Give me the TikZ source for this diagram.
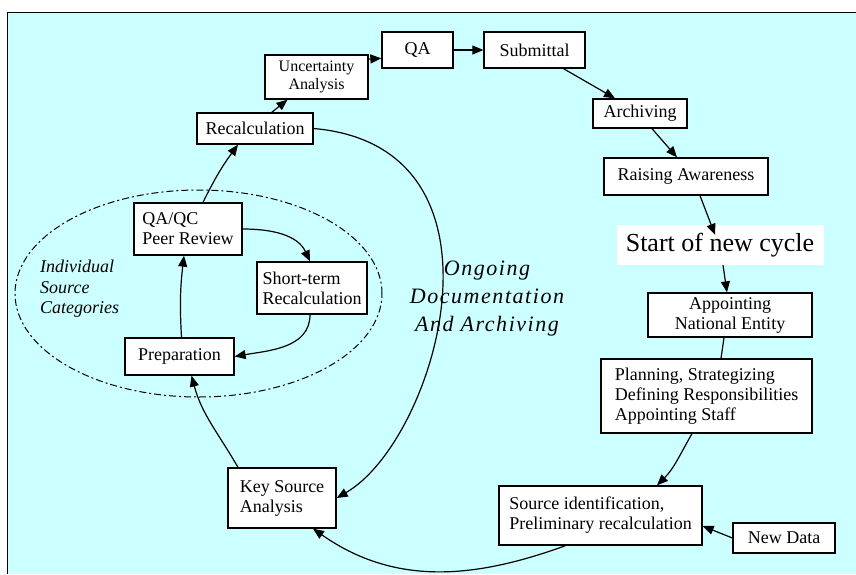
\documentclass[tikz,border=0pt]{standalone}
\usepackage{fontspec}
\setmainfont{Liberation Serif}
\usetikzlibrary{calc,positioning,arrows.meta,shapes}
\definecolor{bgcyan}{RGB}{204,255,255}

\begin{document}
\begin{tikzpicture}[x=1pt,y=1pt,
		box/.style={draw,fill=white,line width=1.3pt,font=\fontsize{18}{20}\selectfont,inner sep=3pt},
		arr/.style={line width=1.2pt,-{Triangle[length=11pt,width=9pt]}}]
		\useasboundingbox (0,0) rectangle (856,-574);
		\fill[bgcyan] (7,-12) rectangle (856,-574);
		\draw[line width=1pt] (7,-574) -- (7,-12) -- (856,-12);
		\draw[line width=1pt,dash pattern=on 7pt off 3pt on 2pt off 3pt] (198.5,-293.5) ellipse [x radius=183.5,y radius=103.5];
		
		\node[box,minimum width=71pt,minimum height=36pt] (qa) at (417.5,-50) {QA};
		\node[box,minimum width=101pt,minimum height=36pt] (sub) at (534.5,-50) {Submittal};
		\node[box,minimum width=103pt,minimum height=44pt,align=center,font=\fontsize{16}{18}\selectfont] (unc) at (316.5,-77) {Uncertainty\\Analysis};
		\node[box,minimum width=116pt,minimum height=31pt] (rec) at (255,-128.5) {Recalculation};
		\node[box,minimum width=94pt,minimum height=29pt] (arc) at (640,-113.5) {Archiving};
		\node[box,minimum width=164pt,minimum height=37pt] (raw) at (686,-176.5) {Raising Awareness};
		\node[fill=white,minimum width=207pt,minimum height=40pt,font=\fontsize{26}{30}\selectfont] (start) at (720,-245) {Start of new cycle};
		\node[box,minimum width=164pt,minimum height=44pt,align=center] (app) at (730,-315) {Appointing\\National Entity};
		\node[box,minimum width=211pt,minimum height=74pt,align=left] (plan) at (706.5,-396) {Planning, Strategizing\\Defining Responsibilities\\Appointing Staff};
		\node[box,minimum width=203pt,minimum height=59pt,align=left] (src) at (600.5,-515.5) {Source identification,\\Preliminary recalculation};
		\node[box,minimum width=102pt,minimum height=30pt] (new) at (784,-538) {New Data};
		\node[box,minimum width=108pt,minimum height=60pt,align=left] (key) at (282,-498) {Key Source\\Analysis};
		\node[box,minimum width=109pt,minimum height=37pt] (prep) at (179.5,-356.5) {Preparation};
		\node[box,minimum width=108pt,minimum height=52pt,align=left] (qaqc) at (188,-229) {QA/QC\\Peer Review};
		\node[box,minimum width=110pt,minimum height=52pt,align=left] (short) at (312,-288) {Short-term\\Recalculation};
		
		\node[anchor=west,inner sep=0pt,align=left,font=\fontsize{18}{20.5}\selectfont\itshape] (isc) at (40,-289) {Individual\\Source\\Categories};
		\node[align=center,font=\fontsize{22}{28}\selectfont\itshape\addfontfeatures{LetterSpace=7}] (ongo) at (487,-299) {Ongoing\\Documentation\\And Archiving};
		
		\path[arr]
		(qa.east) edge (sub.west)
		(unc.19) edge (qa.193)
		(rec.44) edge (unc.-142)
		($(qaqc.north)+(15,0)$) edge[bend left=5] ($(rec.south)+(-17,0)$)
		($(prep.north)+(2,0)$) edge[bend left=5] ($(qaqc.south)+(-4,0)$)
		(qaqc.east) edge[out=0,in=115] ($(short.north)+(-2,0)$)
		($(short.south)+(-2,0)$) edge[out=-90,in=10] (prep.east)
		($(key.north)+(-44,0)$) edge[out=120,in=-75] ($(prep.south)+(12,0)$)
		($(src.south)+(-35,0)$) edge[out=200,in=-35] ($(key.south)+(31,0)$)
		(rec.east) edge[out=-5,in=30,out looseness=1.45,in looseness=0.8] (key.east)
		($(sub.south)+(29,0)$) edge ($(arc.north)+(-25,0)$)
		($(arc.south)+(12,0)$) edge ($(raw.north)+(-9,0)$)
		($(raw.south)+(14,0)$) edge ($(start.north)+(-5,-10)$)
		($(start.south)+(3,0)$) edge ($(app.north)+(-3,0)$)
		($(plan.south)+(-14.5,0)$) edge[out=-120,in=45] ($(src.north)+(56.5,0)$)
		(new.west) edge ($(src.east)+(0,-10.5)$);
		\draw[line width=1.2pt] ($(app.south)+(-6,0)$) -- ($(plan.north)+(14.5,0)$);
		
	\end{tikzpicture}
\end{document}
